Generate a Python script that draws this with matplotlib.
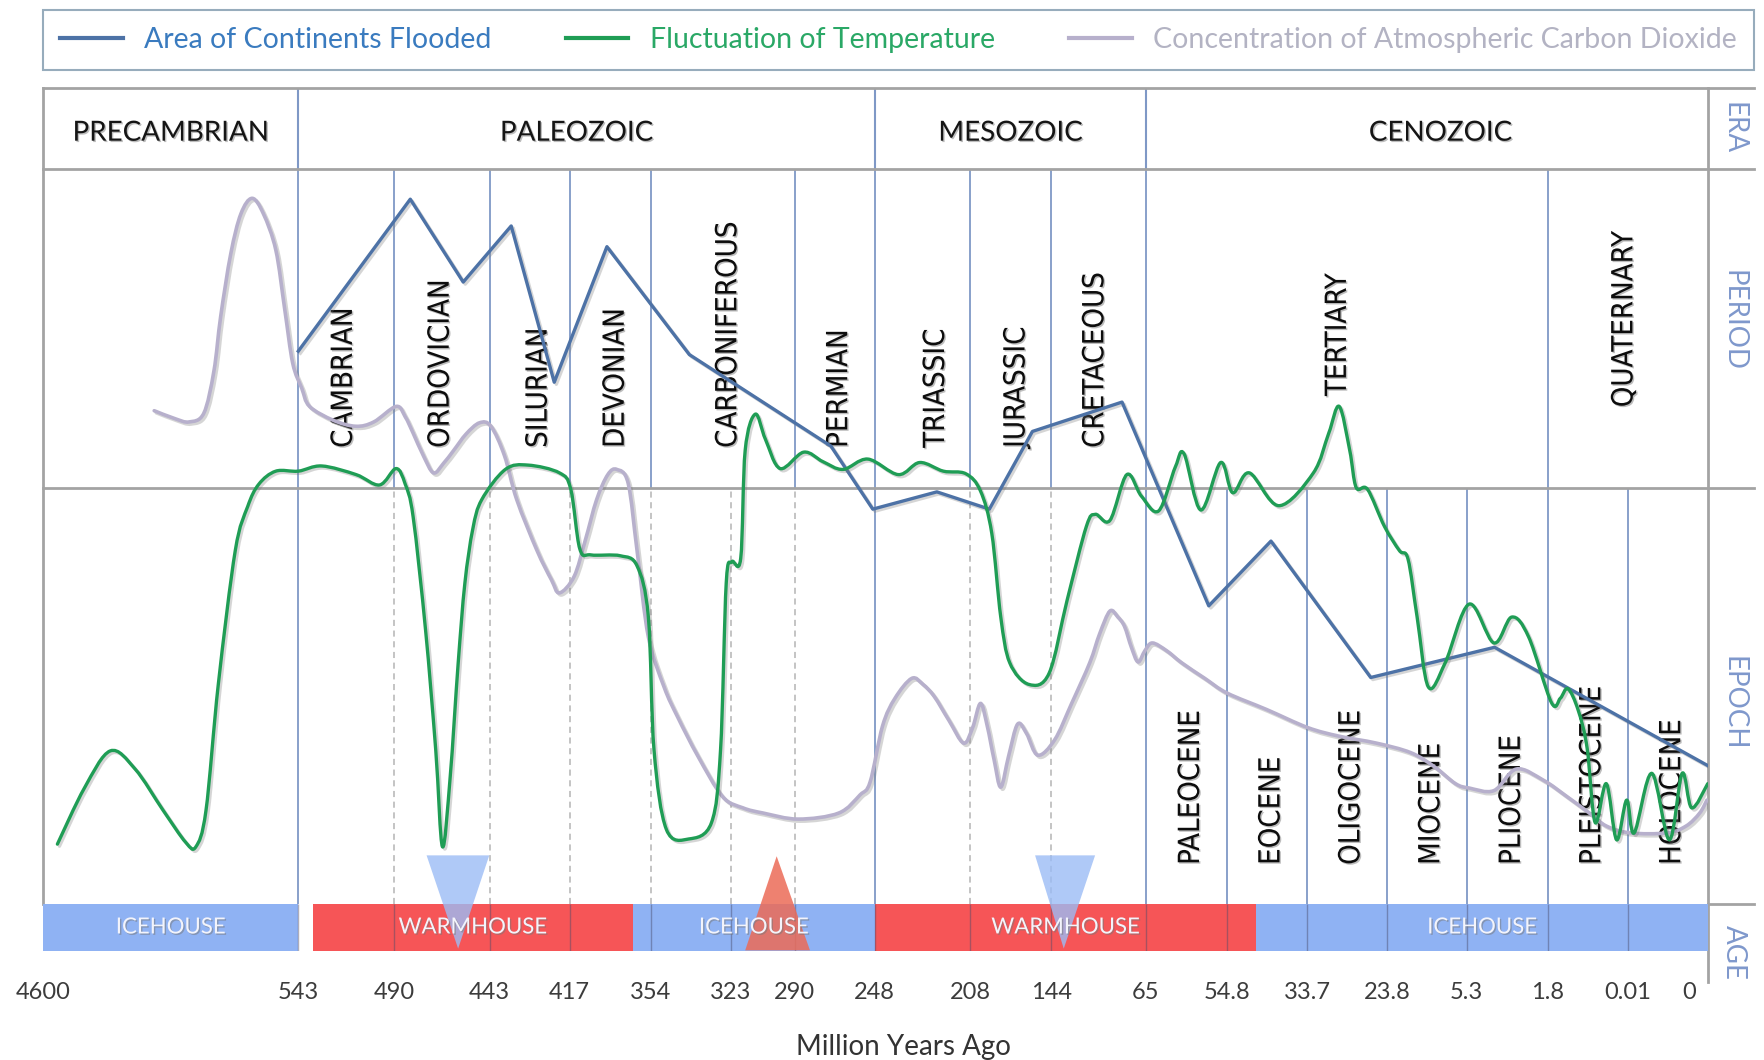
import numpy as np
import matplotlib
matplotlib.use("Agg")
import matplotlib.pyplot as plt
import matplotlib.patheffects as pe
from matplotlib.lines import Line2D
from matplotlib.path import Path
from matplotlib.patches import PathPatch
from matplotlib import transforms, font_manager

plt.rcParams['font.family'] = ['Lato', 'DejaVu Sans']

# time axis (million years ago) - ticks are not evenly spaced in time
tick_ages = [4600, 543, 490, 443, 417, 354, 323, 290, 248, 208, 144, 65, 54.8, 33.7, 23.8, 5.3, 1.8, 0.01, 0]
tick_labels = ['4600', '543', '490', '443', '417', '354', '323', '290', '248', '208', '144',
               '65', '54.8', '33.7', '23.8', '5.3', '1.8', '0.01', '0']

# geological divisions
eras = ['PRECAMBRIAN', 'PALEOZOIC', 'MESOZOIC', 'CENOZOIC']
era_edges = [4600, 543, 248, 65, 0]
periods = ['CAMBRIAN', 'ORDOVICIAN', 'SILURIAN', 'DEVONIAN', 'CARBONIFEROUS', 'PERMIAN',
           'TRIASSIC', 'JURASSIC', 'CRETACEOUS', 'TERTIARY', 'QUATERNARY']
period_edges = [543, 490, 443, 417, 354, 290, 248, 208, 144, 65, 1.8, 0]
epochs = ['PALEOCENE', 'EOCENE', 'OLIGOCENE', 'MIOCENE', 'PLIOCENE', 'PLEISTOCENE', 'HOLOCENE']
epoch_edges = [65, 54.8, 33.7, 23.8, 5.3, 1.8, 0.01, 0]

# climate states
climate = ['ICEHOUSE', 'WARMHOUSE', 'ICEHOUSE', 'WARMHOUSE', 'ICEHOUSE']
climate_start = [4600, 535, 368, 248, 47.1]
climate_end = [543, 368, 248, 47.1, 0]

# area of continents flooded (relative level 0-100)
flood_age = [543, 482, 456, 436, 422, 388, 339, 271, 249, 222, 193, 159, 85, 57.1, 43.2, 25.8, 4.1, 0]
flood_level = [69.5, 87.1, 77.5, 84.0, 65.9, 81.6, 69.1, 58.5, 51.2, 53.2, 51.2, 60.2, 63.6,
               40.0, 47.5, 31.7, 35.2, 21.5]

# fluctuation of temperature (relative level 0-100)
temp_age = [4368, 3939, 3528, 3134, 2688, 2330, 2169, 2009, 1812, 1544,
            1347, 1169, 900, 543, 530, 511, 498, 489, 484.5, 480.6,
            474.5, 469.5, 466.2, 462.4, 458.5, 455.2, 451.3, 446.9, 437.9, 430.5,
            420.3, 416.1, 409.1, 400.4, 377.6, 364.5, 355.8, 352.7, 347.9, 339.2,
            330.4, 326.9, 324.7, 322.4, 317.8, 315.5, 310.3, 305.1, 297.5, 285.3,
            275.2, 264.6, 251.6, 238.1, 229.2, 219.3, 209.9, 200.0, 191.1, 184.0,
            176.9, 161.8, 145.8, 130.8, 114.8, 107.3, 95.1, 81.0, 68.8, 63.4,
            61.3, 60.2, 58.1, 55.6, 53.3, 48.9, 41.1, 32.9, 31.0, 29.7,
            28.4, 27.6, 26.2, 24.1, 20.9, 18.9, 16.8, 14.2, 10.3, 5.2,
            4.13, 3.36, 2.63, 1.72, 1.52, 1.35, 1.12, 0.92, 0.74, 0.49,
            0.26, 0.035, 0.0092, 0.0070, 0.0048, 0.0032, 0.0020, 0]
temp_level = [12.4, 18.9, 23.2, 21.1, 16.3, 12.6, 12.1, 16.3, 31.0, 46.4,
              51.5, 54.1, 55.6, 55.6, 56.2, 55.2, 54.0, 55.9, 54.1, 50.3,
              37.2, 23.3, 12.1, 20.2, 33.3, 42.6, 48.9, 52.3, 55.8, 56.3,
              55.4, 53.5, 46.6, 45.9, 45.8, 44.6, 38.7, 23.3, 14.1, 13.0,
              14.9, 23.3, 42.6, 45.1, 45.5, 58.0, 62.2, 59.3, 55.9, 57.8,
              56.7, 55.8, 57.0, 55.2, 56.6, 55.6, 55.3, 53.3, 48.4, 38.7,
              33.4, 30.9, 32.2, 40.7, 49.2, 50.6, 49.9, 55.2, 52.7, 51.0,
              56.1, 57.6, 51.1, 56.6, 53.1, 55.4, 51.6, 55.4, 60.0, 63.1,
              58.0, 53.7, 53.5, 49.2, 46.4, 45.4, 38.7, 30.6, 33.4, 40.2,
              35.7, 38.7, 36.4, 28.8, 29.3, 30.4, 27.9, 23.5, 14.9, 19.4,
              12.9, 17.5, 13.7, 20.6, 12.9, 20.6, 16.6, 19.4]

# concentration of atmospheric CO2 (relative level 0-100)
co2_age = [2831, 2509, 2277, 2044, 1883, 1776, 1615, 1455, 1276, 1097,
           900, 758, 632, 541.1, 536.8, 523.7, 511.2, 501.2, 488.9, 484.5,
           480.6, 475.6, 470.6, 465.7, 460.7, 454.6, 448.0, 442.6, 438.2, 434.2,
           427.6, 422.9, 420.3, 413.5, 404.8, 396.0, 387.3, 380.3, 371.5, 364.5,
           355.8, 348.8, 343.5, 335.7, 326.1, 316.6, 306.2, 288.2, 266.9, 255.7,
           250.4, 244.7, 239.5, 232.5, 227.8, 223.1, 216.9, 210.8, 206.2, 200.0,
           194.7, 189.3, 184.0, 177.8, 170.7, 163.6, 154.7, 141.2, 127.1, 112.0,
           103.6, 95.1, 88.5, 82.9, 77.2, 71.6, 65.9, 64.2, 62.4, 60.5,
           57.6, 54.8, 44.4, 33.6, 29.7, 25.1, 18.3, 12.9, 7.9, 5.2,
           4.13, 3.16, 1.99, 1.37, 0.87, 0.49, 0.0097, 0.0051, 0.0027, 0.0010, 0.0001]
co2_level = [62.6, 61.7, 61.3, 62.3, 67.2, 73.5, 80.8, 85.4, 87.2, 85.4,
             81.2, 74.3, 68.1, 65.2, 63.1, 61.5, 60.8, 61.3, 63.1, 61.9,
             60.0, 57.4, 55.4, 56.5, 58.0, 59.9, 61.2, 60.8, 57.4, 52.3,
             46.4, 43.0, 41.5, 43.4, 47.6, 52.3, 55.2, 55.8, 54.2, 46.3,
             36.4, 30.6, 27.1, 22.6, 17.9, 16.6, 16.0, 15.3, 16.0, 18.1,
             19.6, 26.1, 29.3, 31.6, 30.9, 29.5, 26.7, 24.1, 25.9, 28.7,
             26.1, 22.2, 19.0, 22.6, 26.3, 25.2, 22.7, 24.5, 28.7, 33.4,
             36.8, 39.4, 38.7, 37.6, 35.2, 33.5, 34.8, 35.7, 34.8, 33.4,
             31.6, 29.9, 28.0, 25.9, 24.9, 24.1, 23.0, 21.4, 19.4, 18.9,
             18.6, 21.1, 19.8, 17.9, 16.0, 14.5, 13.7, 13.7, 14.5, 16.0, 17.5]

# climate shift markers (triangles)
cooling_ages = [[474.0, 443.2, 458.5], [156.9, 107.5, 133.7]]
cooling_levels = [[11.1, 11.1, 0.3], [11.1, 11.1, 0.3]]
warming_ages = [315.5, 282.0, 299.3]
warming_levels = [0.1, 0.1, 11.0]

# ---- layout / style ----
# horizontal slot of each tick, counted from the right edge (0 Ma) leftwards
slot_from_right = [1479, 1252, 1167, 1082, 1011, 939, 868, 811, 740, 655, 583, 499, 427, 356, 285, 214, 142, 71, 0]
ages_up = tick_ages[::-1]
slots_up = slot_from_right[::-1]

def to_pos(a):
    return np.interp(np.asarray(a, float), ages_up, slots_up)

def to_age(p):
    return np.interp(np.asarray(p, float), slots_up, ages_up)

def mid_age(a, b, shift=0):
    # shift is in slot units, positive = to the right
    return float(to_age((to_pos(a) + to_pos(b)) / 2 - shift))

def smooth_path(ages, levels):
    # smoothed line (like a spreadsheet "smoothed line"), built in slot space
    pts = np.column_stack([to_pos(ages), np.asarray(levels, float)])
    prev = np.vstack([pts[:1], pts[:-1]])
    nxt = np.vstack([pts[1:], pts[-1:]])
    tan = (nxt - prev) / 6.0
    verts, codes = [pts[0]], [Path.MOVETO]
    for i in range(len(pts) - 1):
        verts += [pts[i] + tan[i], pts[i + 1] - tan[i + 1], pts[i + 1]]
        codes += [Path.CURVE4] * 3
    verts = np.array(verts)
    verts[:, 0] = to_age(verts[:, 0])
    return Path(verts, codes)

# condensed face for the rotated names, if one is installed
cond_files = {}
for f in font_manager.fontManager.ttflist:
    base = f.fname.split('/')[-1]
    if base in ('LiberationSansNarrow-Regular.ttf', 'DejaVuSansCondensed.ttf'):
        cond_files[base] = f.fname
if 'LiberationSansNarrow-Regular.ttf' in cond_files:
    name_font = dict(fontproperties=font_manager.FontProperties(fname=cond_files['LiberationSansNarrow-Regular.ttf'], size=23))
elif 'DejaVuSansCondensed.ttf' in cond_files:
    name_font = dict(fontproperties=font_manager.FontProperties(fname=cond_files['DejaVuSansCondensed.ttf'], size=21))
else:
    name_font = dict(family=['Liberation Sans', 'DejaVu Sans'], fontsize=17.5, fontweight='bold')

AGE_TOP, EPOCH_TOP, PERIOD_TOP, ERA_TOP = 5.5, 53.7, 90.6, 100
VLINE = '#7f98c6'
FRAME = '#a3a3a3'
C_FLOOD, C_TEMP, C_CO2 = '#4d72a6', '#1f9d55', '#b7b0cc'
C_ICE, C_WARM = '#8fb2f3', '#f65557'

fig = plt.figure(figsize=(17.65, 10.6), dpi=100)
ax = fig.add_axes([0.02424, 0.10264, 0.9433, 0.81453])
ax.set_xscale('function', functions=(to_pos, to_age))
ax.set_xlim(4600, 0)
ax.set_ylim(0, 100)
for s in ax.spines.values():
    s.set_visible(False)
ax.set_yticks([])
ax.set_xticks(tick_ages)
ax.set_xticklabels(tick_labels[:-1] + [''])
ax.tick_params(axis='x', length=0, pad=22, labelsize=17, labelcolor='#3c3c3c')
ax.annotate(tick_labels[-1], xy=(0, 0), xycoords=('data', 'axes fraction'),
            xytext=(-13.5, -22), textcoords='offset points', ha='center', va='top',
            fontsize=17, color='#3c3c3c')
ax.set_xlabel('Million Years Ago', fontsize=20, color='#333333')
ax.xaxis.set_label_coords(0.517, -0.096)

# frame lines
ext = 1.0277
for yv in [ERA_TOP, PERIOD_TOP, EPOCH_TOP]:
    ax.plot([0, ext], [yv / 100] * 2, transform=ax.transAxes, clip_on=False, color=FRAME, lw=2, zorder=2)
ax.plot([1, ext], [AGE_TOP / 100] * 2, transform=ax.transAxes, clip_on=False, color=FRAME, lw=2)
ax.plot([0, 0], [AGE_TOP / 100, 1], transform=ax.transAxes, clip_on=False, color=FRAME, lw=2)
ax.plot([1, 1], [-0.036, 1], transform=ax.transAxes, clip_on=False, color=FRAME, lw=2)

# division lines
ax.vlines(era_edges[1:-1], PERIOD_TOP, ERA_TOP, colors=VLINE, lw=1.5, zorder=1)
ax.vlines(period_edges[:-1], EPOCH_TOP, PERIOD_TOP, colors=VLINE, lw=1.3, zorder=1)
ax.vlines([543, 248, 65, 54.8, 33.7, 23.8, 5.3, 1.8, 0.01], AGE_TOP, EPOCH_TOP, colors=VLINE, lw=1.3, zorder=1)
ax.vlines([490, 443, 417, 354, 323, 290, 208, 144], AGE_TOP, EPOCH_TOP, colors='#b4b4b4',
          linestyles=(0, (4, 3)), lw=1.1, zorder=1)

# climate bar
shadow = [pe.withSimplePatchShadow(offset=(1, -1), shadow_rgbFace='#777777', alpha=0.5)]
for name, a0, a1 in zip(climate, climate_start, climate_end):
    col = C_ICE if name == 'ICEHOUSE' else C_WARM
    ax.barh(0, a1 - a0, left=a0, height=AGE_TOP, align='edge', color=col, zorder=2)
    ax.text(mid_age(a0, a1), AGE_TOP / 2, name, ha='center', va='center', fontsize=16,
            color='#f3f4fb', zorder=6, path_effects=shadow)
ax.vlines(tick_ages[1:-1], 0, AGE_TOP, colors='#4a4a6a', alpha=0.45, lw=1, zorder=3)

for xs, ys in zip(cooling_ages, cooling_levels):
    ax.fill(xs, ys, color='#9bbcf5', alpha=0.8, lw=0, zorder=4)
ax.fill(warming_ages, warming_levels, color='#ec6b57', alpha=0.85, lw=0, zorder=4)

# names
txt_shadow = [pe.withSimplePatchShadow(offset=(1, -1), shadow_rgbFace='#888888', alpha=0.55)]
era_shift = [0, -9, 0, 12]
for i, name in enumerate(eras):
    ax.text(mid_age(era_edges[i], era_edges[i + 1], era_shift[i]), 94.8, name, ha='center',
            va='center', fontsize=20, color='#151515', path_effects=txt_shadow)

period_base = [58.3] * 9 + [64.3, 63.0]
period_shift = [-2, -1, 8, 5, 5, 4, 12, 5, -3, -8, -3]
for i, name in enumerate(periods):
    ax.text(mid_age(period_edges[i], period_edges[i + 1], period_shift[i]), period_base[i], name,
            rotation=90, ha='center', va='bottom', color='#0d0d0d',
            path_effects=txt_shadow, zorder=2, **name_font)
for i, name in enumerate(epochs):
    ax.text(mid_age(epoch_edges[i], epoch_edges[i + 1], 4), 10.0, name, rotation=90,
            ha='center', va='bottom', color='#0d0d0d',
            path_effects=txt_shadow, zorder=2, **name_font)

side = transforms.blended_transform_factory(ax.transAxes, ax.transData)
for name, yv in [('ERA', 95.3), ('PERIOD', 73.0), ('EPOCH', 28.7), ('AGE', -0.1)]:
    ax.text(1.0156, yv, name, transform=side, rotation=-90, ha='center', va='center',
            fontsize=20, color='#7f98cc', clip_on=False)

# series
line_fx = [pe.SimpleLineShadow(offset=(1.5, -1.5), shadow_color='#777777', alpha=0.3), pe.Normal()]
ax.add_patch(PathPatch(smooth_path(co2_age, co2_level), fill=False, edgecolor=C_CO2, lw=2.6,
                       zorder=5, capstyle='round', joinstyle='round', path_effects=line_fx))
ax.plot(flood_age, flood_level, color=C_FLOOD, lw=2.4, zorder=6, solid_joinstyle='round', path_effects=line_fx)
ax.add_patch(PathPatch(smooth_path(temp_age, temp_level), fill=False, edgecolor=C_TEMP, lw=2.4,
                       zorder=7, capstyle='round', joinstyle='round', path_effects=line_fx))

# legend
handles = [Line2D([], [], color=c, lw=3) for c in (C_FLOOD, C_TEMP, C_CO2)]
labels = ['Area of Continents Flooded', 'Fluctuation of Temperature',
          'Concentration of Atmospheric Carbon Dioxide']
leg = fig.legend(handles, labels, loc='center', bbox_to_anchor=(0.02424, 0.9331, 0.9694, 0.0584),
                 mode='expand', ncol=3, frameon=True, fancybox=False, edgecolor='#7d98ab',
                 fontsize=20.5, handlelength=2.2, handletextpad=0.75, borderpad=0.6, borderaxespad=0)
leg.get_frame().set_linewidth(1.5)
for t, c in zip(leg.get_texts(), ['#3a7bbf', '#2aa866', '#b3b3c3']):
    t.set_color(c)

# make sure the oldest age sits on the left
if ax.transData.transform((4600, 0))[0] > ax.transData.transform((0, 0))[0]:
    ax.invert_xaxis()

fig.savefig('out.png', dpi=100)
